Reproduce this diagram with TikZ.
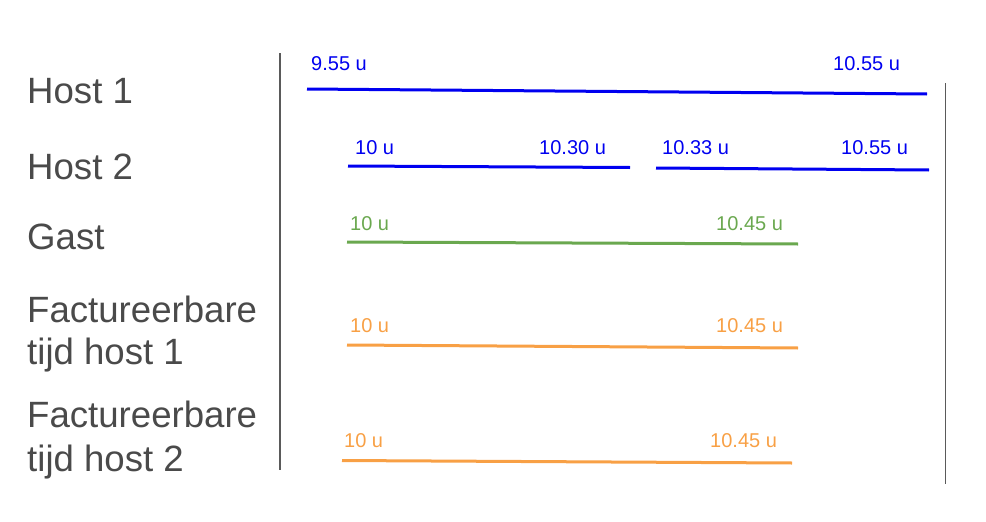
\documentclass[tikz,border=0pt]{standalone}
\usepackage{fontspec}
\setmainfont{Liberation Sans}
\definecolor{lblgray}{HTML}{4A4A4A}
\definecolor{axgray}{HTML}{5A5A5A}
\definecolor{hostblue}{HTML}{0000F0}
\definecolor{gastgreen}{HTML}{6AA84F}
\definecolor{factorange}{HTML}{F8A045}
\begin{document}
\begin{tikzpicture}[x=1pt,y=-1pt,
  rowlabel/.style={anchor=base west,inner sep=0pt,text=lblgray,font=\fontsize{36.6}{44}\selectfont,align=left},
  tlabel/.style={anchor=base west,inner sep=0pt,font=\fontsize{20}{22}\selectfont},
  axis/.style={draw=axgray,line width=1.7pt},
  bar/.style={line width=3pt}]
\useasboundingbox (0,0) rectangle (986,522);
% axes
\draw[axis] (280,53) -- (280,470);
\draw[axis] (945.5,83) -- (945.5,484);
% row labels
\node[rowlabel] (h1) at (27,103) {Host 1};
\node[rowlabel] (h2) at (27,179) {Host 2};
\node[rowlabel] (g) at (27,249) {Gast};
\node[rowlabel] (f1a) at (27,322) {Factureerbare};
\node[rowlabel] (f1b) at (27,364) {tijd host 1};
\node[rowlabel] (f2a) at (27,427) {Factureerbare};
\node[rowlabel] (f2b) at (27,471) {tijd host 2};
% Host 1
\draw[bar,hostblue] (307,89) -- (927,94);
\node[tlabel,text=hostblue] (h1s) at (311,70) {9.55 u};
\node[tlabel,text=hostblue] (h1e) at (833,70) {10.55 u};
% Host 2
\draw[bar,hostblue] (348,166) -- (630,167.5);
\draw[bar,hostblue] (656,168) -- (929,170);
\node[tlabel,text=hostblue] (h2s) at (355,154) {10 u};
\node[tlabel,text=hostblue] (h2m) at (539,154) {10.30 u};
\node[tlabel,text=hostblue] (h2n) at (662,154) {10.33 u};
\node[tlabel,text=hostblue] (h2e) at (841,154) {10.55 u};
% Gast
\draw[bar,gastgreen] (347,242) -- (798,244);
\node[tlabel,text=gastgreen] (gs) at (350,230) {10 u};
\node[tlabel,text=gastgreen] (ge) at (716,230) {10.45 u};
% Factureerbare tijd host 1
\draw[bar,factorange] (347,345) -- (798,348);
\node[tlabel,text=factorange] (f1s) at (350,332) {10 u};
\node[tlabel,text=factorange] (f1e) at (716,332) {10.45 u};
% Factureerbare tijd host 2
\draw[bar,factorange] (342,460.5) -- (792,463);
\node[tlabel,text=factorange] (f2s) at (344,447) {10 u};
\node[tlabel,text=factorange] (f2e) at (710,447) {10.45 u};
\end{tikzpicture}
\end{document}
